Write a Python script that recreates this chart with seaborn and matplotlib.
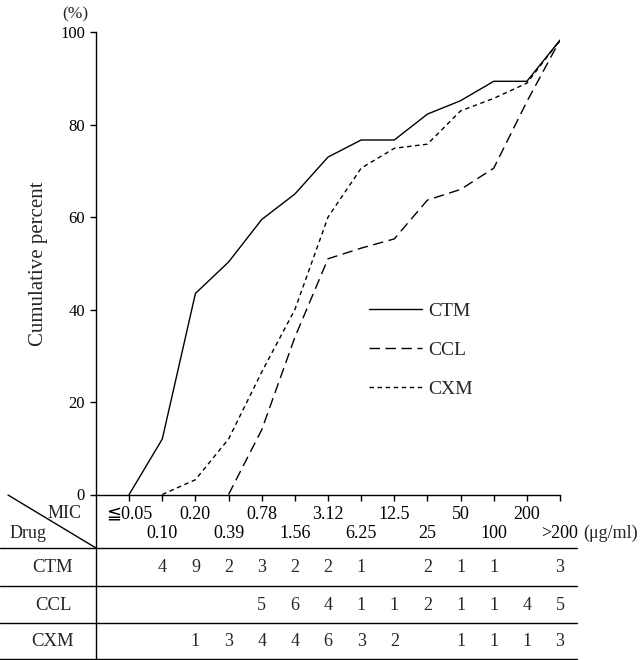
import numpy as np
import pandas as pd
import matplotlib
matplotlib.use("Agg")
import matplotlib.pyplot as plt
import matplotlib.transforms as mtransforms
from matplotlib.lines import Line2D
import seaborn as sns

# ---------------- data ----------------
mic_labels = ["≦0.05", "0.10", "0.20", "0.39", "0.78", "1.56", "3.12",
              "6.25", "12.5", "25", "50", "100", "200", ">200"]
drugs = ["CTM", "CCL", "CXM"]

# cumulative percent (None = not drawn)
ctm_cum = [0, 12, 43.5, 50.3, 59.5, 65, 73, 76.7, 76.7, 82.3, 85.2, 89.4, 89.4, 98.3]
ccl_cum = [None, None, None, 0, 14, 34, 51, 53.3, 55.3, 63.7, 66, 70.6, 85, 98.3]
cxm_cum = [None, 0, 3.2, 12, 26.5, 40, 60, 70.6, 74.9, 75.8, 83, 85.7, 89, 98.3]

# number of strains in the table (None = blank cell)
ctm_n = [None, 4, 9, 2, 3, 2, 2, 1, None, 2, 1, 1, None, 3]
ccl_n = [None, None, None, None, 5, 6, 4, 1, 1, 2, 1, 1, 4, 5]
cxm_n = [None, None, 1, 3, 4, 4, 6, 3, 2, None, 1, 1, 1, 3]

# ---------------- style ----------------
sns.set_style("ticks")
plt.rcParams["font.family"] = ["Liberation Serif", "DejaVu Sans", "Noto Sans CJK JP"]
plt.rcParams["axes.edgecolor"] = "black"
plt.rcParams["axes.linewidth"] = 1.0
plt.rcParams["xtick.color"] = "black"
plt.rcParams["ytick.color"] = "black"

W, H = 643, 660
fig = plt.figure(figsize=(W / 100, H / 100), dpi=100)
ax = fig.add_axes([96 / W, (H - 494.5) / H, (560 - 96) / W, (494.5 - 32.3) / H])

def px(x, y):
    return x / W, 1 - y / H

styles = {
    "CTM": "-",
    "CCL": (0, (7.5, 4)),
    "CXM": (0, (3.2, 2.6)),
}
series = {"CTM": ctm_cum, "CCL": ccl_cum, "CXM": cxm_cum}
for d in drugs:
    df = pd.DataFrame({"pos": np.arange(len(mic_labels)), "cum": series[d]}).dropna()
    sns.lineplot(data=df, x="pos", y="cum", ax=ax, color="black", lw=1.0,
                 linestyle=styles[d], label=d, estimator=None, sort=False)

ax.set_xlim(-1, 13)
ax.set_ylim(0, 100)
ax.set_yticks([0, 20, 40, 60, 80, 100])
ax.set_yticklabels(["0", "20", "40", "60", "80", "100"], fontsize=12)

pos = np.arange(len(mic_labels))
ax.set_xticks(pos[::2])
ax.set_xticklabels(mic_labels[::2], fontsize=13)
ax.set_xticks(pos[1::2], minor=True)
ax.set_xticklabels(mic_labels[1::2], minor=True, fontsize=13)
ax.tick_params(axis="both", which="both", direction="out", length=4, width=1)
ax.tick_params(axis="x", which="major", pad=4)
ax.tick_params(axis="x", which="minor", pad=17.7)
ax.tick_params(axis="y", pad=4)
sns.despine(ax=ax)
ax.set_xlabel("")
ax.set_ylabel("Cumulative percent", fontsize=15)
ax.yaxis.set_label_coords((48 - 96) / 464, 0.5)

leg = ax.legend(loc="upper left", bbox_to_anchor=px(369, 302), bbox_transform=fig.transFigure,
                frameon=False, fontsize=14, handlelength=2.7, handletextpad=0.35,
                labelspacing=1.1, borderpad=0, borderaxespad=0)

# ---------------- table ----------------
fig.text(*px(75, 14), "(%)", ha="center", va="center", fontsize=12.5)
fig.text(*px(583, 533), "(μg/ml)", ha="left", va="center", fontsize=13)

for (x0, y0, x1, y1) in [(0, 548, 577, 548), (0, 586, 577, 586), (0, 623, 577, 623),
                         (0, 659, 577, 659), (96, 494.5, 96, 660), (8, 495, 96, 548)]:
    a, b = px(x0, y0)
    c, d = px(x1, y1)
    fig.add_artist(Line2D([a, c], [b, d], transform=fig.transFigure, color="black", lw=1.0))

fig.text(*px(82, 514), "MIC", ha="right", va="center", fontsize=13)
fig.text(*px(10, 533), "Drug", ha="left", va="center", fontsize=13)

trans = mtransforms.blended_transform_factory(ax.transData, fig.transFigure)
rows = {"CTM": (ctm_n, 568), "CCL": (ccl_n, 605), "CXM": (cxm_n, 642)}
for d in drugs:
    counts, yp = rows[d]
    fig.text(*px(53, yp), d, ha="center", va="center", fontsize=13.5)
    for i, c in enumerate(counts):
        if c is not None:
            ax.text(i, 1 - yp / H, str(c), transform=trans, ha="center", va="center",
                    fontsize=13, clip_on=False)

fig.savefig("out.png", dpi=100)
